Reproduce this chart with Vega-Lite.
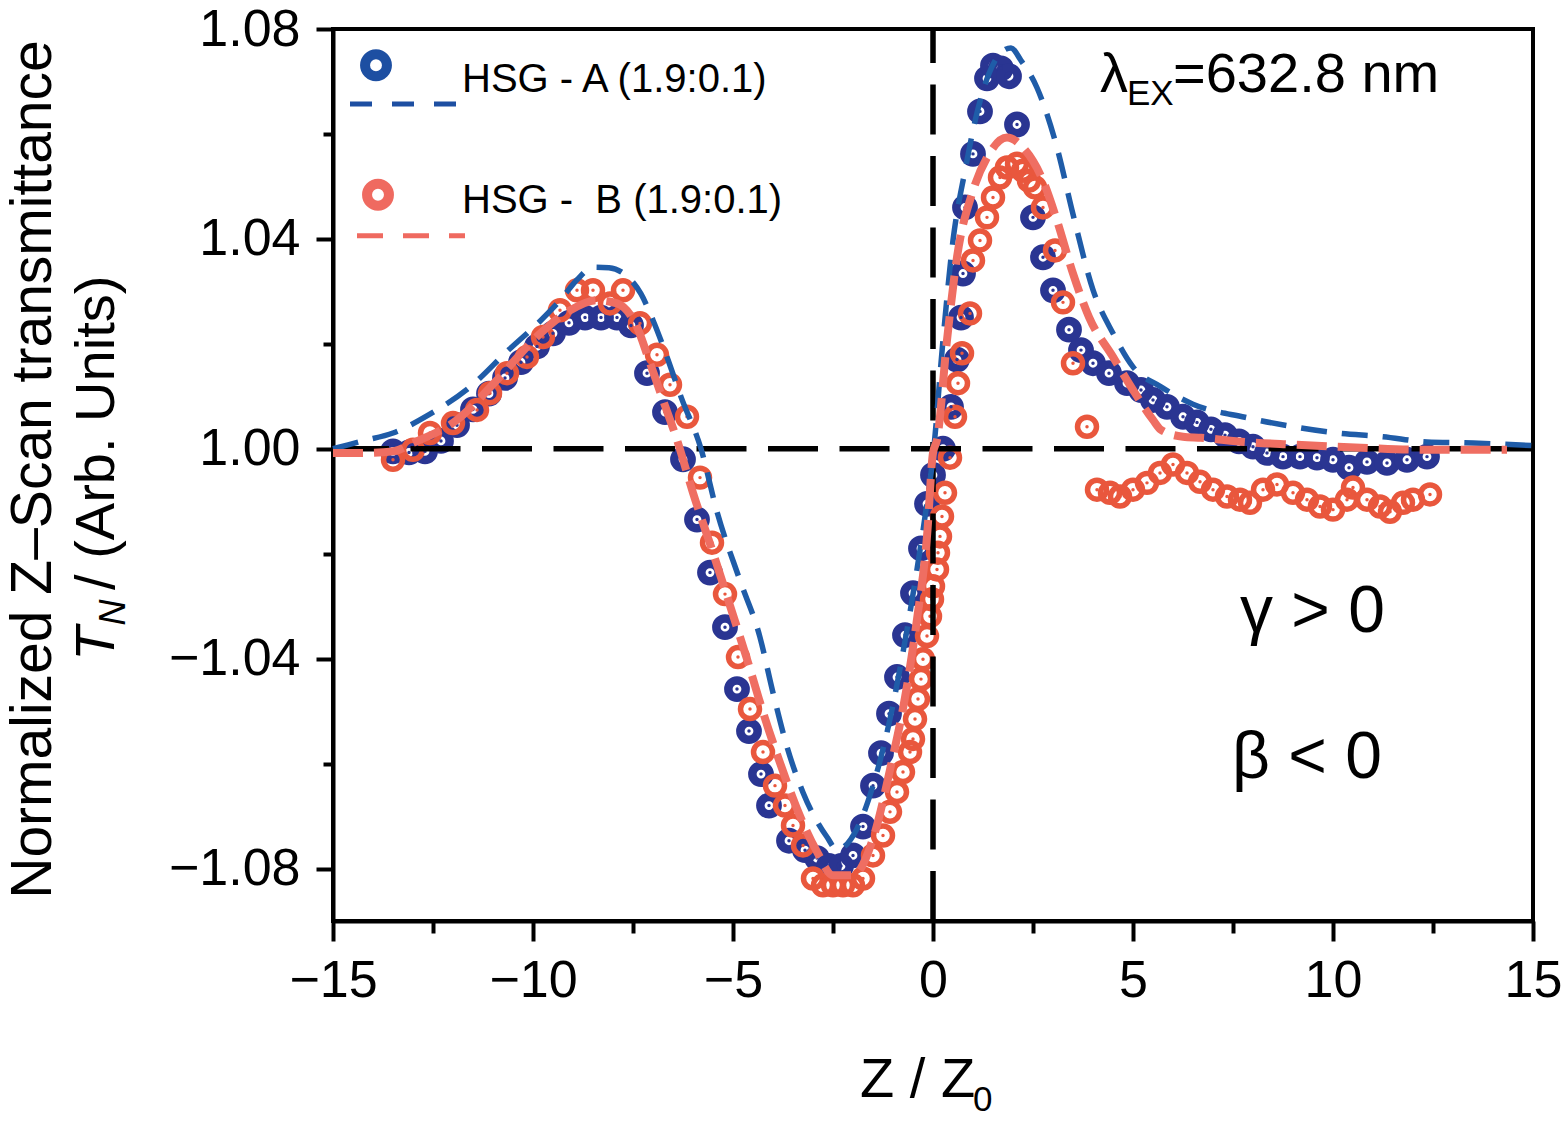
{
  "$schema": "https://vega.github.io/schema/vega-lite/v6.json",
  "background": "white",
  "autosize": {"type": "none"},
  "padding": {"left": 333, "top": 29, "right": 31, "bottom": 200},
  "width": 1200,
  "height": 892,
  "datasets": {
    "pts": [
      {"s": "A", "z": -13.5, "t": 0.9995}, {"s": "A", "z": -13.1, "t": 0.9993}, {"s": "A", "z": -12.7, "t": 0.9995},
      {"s": "A", "z": -12.3, "t": 1.0015}, {"s": "A", "z": -11.9, "t": 1.0045}, {"s": "A", "z": -11.5, "t": 1.0075},
      {"s": "A", "z": -11.1, "t": 1.0105}, {"s": "A", "z": -10.7, "t": 1.0135}, {"s": "A", "z": -10.3, "t": 1.0165},
      {"s": "A", "z": -9.9, "t": 1.0195}, {"s": "A", "z": -9.5, "t": 1.022}, {"s": "A", "z": -9.1, "t": 1.024},
      {"s": "A", "z": -8.7, "t": 1.025}, {"s": "A", "z": -8.3, "t": 1.025}, {"s": "A", "z": -7.9, "t": 1.025},
      {"s": "A", "z": -7.55, "t": 1.0235}, {"s": "A", "z": -7.15, "t": 1.0144}, {"s": "A", "z": -6.7, "t": 1.007},
      {"s": "A", "z": -6.25, "t": 0.998}, {"s": "A", "z": -5.9, "t": 0.9865}, {"s": "A", "z": -5.575, "t": 0.9764},
      {"s": "A", "z": -5.2, "t": 0.966}, {"s": "A", "z": -4.9, "t": 0.9542}, {"s": "A", "z": -4.6, "t": 0.9462},
      {"s": "A", "z": -4.3, "t": 0.938}, {"s": "A", "z": -4.1, "t": 0.932}, {"s": "A", "z": -3.6, "t": 0.9253},
      {"s": "A", "z": -3.2, "t": 0.9235}, {"s": "A", "z": -2.9, "t": 0.922}, {"s": "A", "z": -2.6, "t": 0.9205},
      {"s": "A", "z": -2.3, "t": 0.9205}, {"s": "A", "z": -2.0, "t": 0.9225}, {"s": "A", "z": -1.75, "t": 0.928},
      {"s": "A", "z": -1.5, "t": 0.9358}, {"s": "A", "z": -1.3, "t": 0.942}, {"s": "A", "z": -1.1, "t": 0.9495},
      {"s": "A", "z": -0.9, "t": 0.9565}, {"s": "A", "z": -0.7, "t": 0.9645}, {"s": "A", "z": -0.5, "t": 0.9725},
      {"s": "A", "z": -0.3, "t": 0.981}, {"s": "A", "z": -0.15, "t": 0.9895}, {"s": "A", "z": 0.0, "t": 0.995},
      {"s": "A", "z": 0.25, "t": 1.0}, {"s": "A", "z": 0.45, "t": 1.008}, {"s": "A", "z": 0.6, "t": 1.017},
      {"s": "A", "z": 0.7, "t": 1.025}, {"s": "A", "z": 0.75, "t": 1.0334}, {"s": "A", "z": 0.8, "t": 1.046},
      {"s": "A", "z": 1.0, "t": 1.0562}, {"s": "A", "z": 1.175, "t": 1.0643}, {"s": "A", "z": 1.35, "t": 1.0706},
      {"s": "A", "z": 1.5, "t": 1.073}, {"s": "A", "z": 1.7, "t": 1.0725}, {"s": "A", "z": 1.9, "t": 1.071},
      {"s": "A", "z": 2.1, "t": 1.0618}, {"s": "A", "z": 2.5, "t": 1.0441}, {"s": "A", "z": 2.75, "t": 1.0365},
      {"s": "A", "z": 3.0, "t": 1.0302}, {"s": "A", "z": 3.4, "t": 1.0227}, {"s": "A", "z": 3.7, "t": 1.0188},
      {"s": "A", "z": 4.0, "t": 1.0163}, {"s": "A", "z": 4.4, "t": 1.0144}, {"s": "A", "z": 4.85, "t": 1.0125},
      {"s": "A", "z": 5.2, "t": 1.0112}, {"s": "A", "z": 5.5, "t": 1.0093}, {"s": "A", "z": 5.85, "t": 1.008},
      {"s": "A", "z": 6.25, "t": 1.0061}, {"s": "A", "z": 6.6, "t": 1.005}, {"s": "A", "z": 6.95, "t": 1.0037},
      {"s": "A", "z": 7.3, "t": 1.0026}, {"s": "A", "z": 7.65, "t": 1.0014}, {"s": "A", "z": 8.0, "t": 1.0004},
      {"s": "A", "z": 8.35, "t": 0.9992}, {"s": "A", "z": 8.75, "t": 0.9985}, {"s": "A", "z": 9.175, "t": 0.9985},
      {"s": "A", "z": 9.6, "t": 0.9983}, {"s": "A", "z": 10.0, "t": 0.9979}, {"s": "A", "z": 10.4, "t": 0.9964},
      {"s": "A", "z": 10.85, "t": 0.9975}, {"s": "A", "z": 11.35, "t": 0.9973}, {"s": "A", "z": 11.85, "t": 0.9979},
      {"s": "A", "z": 12.35, "t": 0.9985},
      {"s": "B", "z": -13.5, "t": 0.9979}, {"s": "B", "z": -13.0, "t": 0.9998}, {"s": "B", "z": -12.575, "t": 1.003},
      {"s": "B", "z": -12.0, "t": 1.0049}, {"s": "B", "z": -11.4, "t": 1.0074}, {"s": "B", "z": -11.075, "t": 1.0106},
      {"s": "B", "z": -10.65, "t": 1.0144}, {"s": "B", "z": -10.15, "t": 1.0175}, {"s": "B", "z": -9.75, "t": 1.0213},
      {"s": "B", "z": -9.325, "t": 1.0264}, {"s": "B", "z": -8.9, "t": 1.0302}, {"s": "B", "z": -8.5, "t": 1.0302},
      {"s": "B", "z": -8.075, "t": 1.0277}, {"s": "B", "z": -7.75, "t": 1.0302}, {"s": "B", "z": -7.325, "t": 1.0239},
      {"s": "B", "z": -6.9, "t": 1.0179}, {"s": "B", "z": -6.575, "t": 1.0122}, {"s": "B", "z": -6.15, "t": 1.0061},
      {"s": "B", "z": -5.825, "t": 0.9945}, {"s": "B", "z": -5.525, "t": 0.9821}, {"s": "B", "z": -5.2, "t": 0.9723},
      {"s": "B", "z": -4.875, "t": 0.9603}, {"s": "B", "z": -4.575, "t": 0.9504}, {"s": "B", "z": -4.25, "t": 0.9422},
      {"s": "B", "z": -3.95, "t": 0.9358}, {"s": "B", "z": -3.7, "t": 0.932}, {"s": "B", "z": -3.5, "t": 0.9282},
      {"s": "B", "z": -3.25, "t": 0.9244}, {"s": "B", "z": -3.0, "t": 0.9181}, {"s": "B", "z": -2.75, "t": 0.9168},
      {"s": "B", "z": -2.5, "t": 0.9168}, {"s": "B", "z": -2.25, "t": 0.9168}, {"s": "B", "z": -2.0, "t": 0.9168},
      {"s": "B", "z": -1.75, "t": 0.9181}, {"s": "B", "z": -1.5, "t": 0.9225}, {"s": "B", "z": -1.25, "t": 0.9263},
      {"s": "B", "z": -1.075, "t": 0.9308}, {"s": "B", "z": -0.9, "t": 0.9346}, {"s": "B", "z": -0.75, "t": 0.9384},
      {"s": "B", "z": -0.575, "t": 0.9422}, {"s": "B", "z": -0.5, "t": 0.9447}, {"s": "B", "z": -0.45, "t": 0.9485},
      {"s": "B", "z": -0.375, "t": 0.9523}, {"s": "B", "z": -0.3, "t": 0.9561}, {"s": "B", "z": -0.25, "t": 0.9599},
      {"s": "B", "z": -0.15, "t": 0.9643}, {"s": "B", "z": -0.075, "t": 0.9681}, {"s": "B", "z": -0.025, "t": 0.9713},
      {"s": "B", "z": 0.0, "t": 0.9738}, {"s": "B", "z": 0.1, "t": 0.977}, {"s": "B", "z": 0.125, "t": 0.9802},
      {"s": "B", "z": 0.175, "t": 0.9833}, {"s": "B", "z": 0.225, "t": 0.9871}, {"s": "B", "z": 0.3, "t": 0.9916},
      {"s": "B", "z": 0.425, "t": 0.9983}, {"s": "B", "z": 0.55, "t": 1.0061}, {"s": "B", "z": 0.625, "t": 1.0125},
      {"s": "B", "z": 0.725, "t": 1.0182}, {"s": "B", "z": 0.925, "t": 1.0258}, {"s": "B", "z": 1.0, "t": 1.0359},
      {"s": "B", "z": 1.175, "t": 1.0397}, {"s": "B", "z": 1.35, "t": 1.0441}, {"s": "B", "z": 1.5, "t": 1.0479},
      {"s": "B", "z": 1.675, "t": 1.0517}, {"s": "B", "z": 1.85, "t": 1.0536}, {"s": "B", "z": 2.1, "t": 1.0543},
      {"s": "B", "z": 2.25, "t": 1.053}, {"s": "B", "z": 2.4, "t": 1.0511}, {"s": "B", "z": 2.55, "t": 1.0498},
      {"s": "B", "z": 2.75, "t": 1.046}, {"s": "B", "z": 3.05, "t": 1.0378}, {"s": "B", "z": 3.25, "t": 1.0279},
      {"s": "B", "z": 3.5, "t": 1.0163}, {"s": "B", "z": 3.85, "t": 1.0042}, {"s": "B", "z": 4.1, "t": 0.9922},
      {"s": "B", "z": 4.425, "t": 0.9916}, {"s": "B", "z": 4.675, "t": 0.9909}, {"s": "B", "z": 5.0, "t": 0.9922},
      {"s": "B", "z": 5.35, "t": 0.9935}, {"s": "B", "z": 5.675, "t": 0.9954}, {"s": "B", "z": 6.0, "t": 0.997},
      {"s": "B", "z": 6.35, "t": 0.9954}, {"s": "B", "z": 6.675, "t": 0.9937}, {"s": "B", "z": 7.0, "t": 0.9922},
      {"s": "B", "z": 7.35, "t": 0.9909}, {"s": "B", "z": 7.675, "t": 0.9903}, {"s": "B", "z": 7.925, "t": 0.9897},
      {"s": "B", "z": 8.25, "t": 0.9922}, {"s": "B", "z": 8.6, "t": 0.9932}, {"s": "B", "z": 9.0, "t": 0.9916},
      {"s": "B", "z": 9.35, "t": 0.9903}, {"s": "B", "z": 9.675, "t": 0.989}, {"s": "B", "z": 10.0, "t": 0.9884},
      {"s": "B", "z": 10.35, "t": 0.9903}, {"s": "B", "z": 10.5, "t": 0.9926}, {"s": "B", "z": 10.85, "t": 0.9903},
      {"s": "B", "z": 11.175, "t": 0.989}, {"s": "B", "z": 11.425, "t": 0.988}, {"s": "B", "z": 11.75, "t": 0.9897},
      {"s": "B", "z": 12.0, "t": 0.9903}, {"s": "B", "z": 12.425, "t": 0.9913}
    ],
    "fit": [
      {"s": "A", "z": -15, "t": 1.0}, {"s": "A", "z": -14.25, "t": 1.0015}, {"s": "A", "z": -13.5, "t": 1.003},
      {"s": "A", "z": -12.6, "t": 1.0065}, {"s": "A", "z": -11.6, "t": 1.0116}, {"s": "A", "z": -10.6, "t": 1.0189},
      {"s": "A", "z": -9.8, "t": 1.0245}, {"s": "A", "z": -9.3, "t": 1.0285}, {"s": "A", "z": -8.9, "t": 1.0322},
      {"s": "A", "z": -8.5, "t": 1.0346}, {"s": "A", "z": -8.1, "t": 1.0345}, {"s": "A", "z": -7.7, "t": 1.0332},
      {"s": "A", "z": -7.3, "t": 1.0295}, {"s": "A", "z": -7.0, "t": 1.0245}, {"s": "A", "z": -6.65, "t": 1.0175},
      {"s": "A", "z": -6.3, "t": 1.0099}, {"s": "A", "z": -5.8, "t": 1.0}, {"s": "A", "z": -5.4, "t": 0.988},
      {"s": "A", "z": -4.83, "t": 0.975}, {"s": "A", "z": -4.33, "t": 0.9642}, {"s": "A", "z": -4.0, "t": 0.9535},
      {"s": "A", "z": -3.65, "t": 0.9432}, {"s": "A", "z": -3.25, "t": 0.9345}, {"s": "A", "z": -2.65, "t": 0.926},
      {"s": "A", "z": -2.4, "t": 0.9236}, {"s": "A", "z": -1.9, "t": 0.9276}, {"s": "A", "z": -1.5, "t": 0.9358},
      {"s": "A", "z": -1.075, "t": 0.9485}, {"s": "A", "z": -0.75, "t": 0.9612}, {"s": "A", "z": -0.4, "t": 0.977},
      {"s": "A", "z": -0.15, "t": 0.9897}, {"s": "A", "z": 0.0, "t": 0.9985}, {"s": "A", "z": 0.25, "t": 1.0207},
      {"s": "A", "z": 0.5, "t": 1.0397}, {"s": "A", "z": 0.8, "t": 1.053}, {"s": "A", "z": 1.1, "t": 1.064},
      {"s": "A", "z": 1.4, "t": 1.0715}, {"s": "A", "z": 1.7, "t": 1.0755}, {"s": "A", "z": 1.95, "t": 1.0764},
      {"s": "A", "z": 2.2, "t": 1.074}, {"s": "A", "z": 2.6, "t": 1.0688}, {"s": "A", "z": 3.1, "t": 1.0574},
      {"s": "A", "z": 3.5, "t": 1.0447}, {"s": "A", "z": 4.0, "t": 1.0303}, {"s": "A", "z": 4.5, "t": 1.022},
      {"s": "A", "z": 5.0, "t": 1.0156}, {"s": "A", "z": 5.7, "t": 1.0118}, {"s": "A", "z": 6.5, "t": 1.0085},
      {"s": "A", "z": 7.8, "t": 1.006}, {"s": "A", "z": 9.0, "t": 1.0042}, {"s": "A", "z": 10.1, "t": 1.003},
      {"s": "A", "z": 11.25, "t": 1.0023}, {"s": "A", "z": 12.35, "t": 1.0013}, {"s": "A", "z": 13.5, "t": 1.0011},
      {"s": "A", "z": 15, "t": 1.0006},
      {"s": "B", "z": -15, "t": 0.9992}, {"s": "B", "z": -14.2, "t": 0.9992}, {"s": "B", "z": -13.5, "t": 0.9995},
      {"s": "B", "z": -13.0, "t": 1.0011}, {"s": "B", "z": -11.9, "t": 1.0055}, {"s": "B", "z": -10.9, "t": 1.0131},
      {"s": "B", "z": -9.9, "t": 1.0214}, {"s": "B", "z": -9.07, "t": 1.0264}, {"s": "B", "z": -8.4, "t": 1.0283},
      {"s": "B", "z": -7.9, "t": 1.0277}, {"s": "B", "z": -7.4, "t": 1.0232}, {"s": "B", "z": -7.1, "t": 1.0169},
      {"s": "B", "z": -6.75, "t": 1.0093}, {"s": "B", "z": -6.4, "t": 1.0017}, {"s": "B", "z": -6.0, "t": 0.9916},
      {"s": "B", "z": -5.5, "t": 0.9802}, {"s": "B", "z": -5.07, "t": 0.97}, {"s": "B", "z": -4.65, "t": 0.9599},
      {"s": "B", "z": -4.25, "t": 0.9498}, {"s": "B", "z": -3.8, "t": 0.9396}, {"s": "B", "z": -3.4, "t": 0.9314},
      {"s": "B", "z": -2.9, "t": 0.9232}, {"s": "B", "z": -2.5, "t": 0.9187}, {"s": "B", "z": -2.0, "t": 0.9187},
      {"s": "B", "z": -1.5, "t": 0.9257}, {"s": "B", "z": -1.07, "t": 0.939}, {"s": "B", "z": -0.65, "t": 0.9548},
      {"s": "B", "z": -0.4, "t": 0.9675}, {"s": "B", "z": -0.15, "t": 0.9833}, {"s": "B", "z": 0.0, "t": 0.9992},
      {"s": "B", "z": 0.1, "t": 1.0017}, {"s": "B", "z": 0.35, "t": 1.0207}, {"s": "B", "z": 0.6, "t": 1.0365},
      {"s": "B", "z": 1.0, "t": 1.0492}, {"s": "B", "z": 1.35, "t": 1.0555}, {"s": "B", "z": 1.85, "t": 1.0593},
      {"s": "B", "z": 2.25, "t": 1.0574}, {"s": "B", "z": 2.75, "t": 1.0511}, {"s": "B", "z": 3.1, "t": 1.0435},
      {"s": "B", "z": 3.5, "t": 1.0334}, {"s": "B", "z": 3.9, "t": 1.0251}, {"s": "B", "z": 4.5, "t": 1.0175},
      {"s": "B", "z": 5.0, "t": 1.0112}, {"s": "B", "z": 5.5, "t": 1.0055}, {"s": "B", "z": 5.7, "t": 1.0036},
      {"s": "B", "z": 6.25, "t": 1.0023}, {"s": "B", "z": 6.7, "t": 1.0021}, {"s": "B", "z": 7.8, "t": 1.0013},
      {"s": "B", "z": 9.0, "t": 1.0008}, {"s": "B", "z": 10.7, "t": 1.0002}, {"s": "B", "z": 12.35, "t": 0.9998},
      {"s": "B", "z": 14.35, "t": 0.9998}
    ],
    "refs": [
      {"z": 15, "z2": -15, "t": 1.0, "t2": 1.0},
      {"z": 0, "z2": 0, "t": 0.91, "t2": 1.08}
    ],
    "legpts": [
      {"s": "A", "z": -13.925, "t": 1.0731},
      {"s": "B", "z": -13.875, "t": 1.0484}
    ],
    "legdash": [
      {"s": "A", "z": -14.575, "z2": -11.875, "t": 1.0657},
      {"s": "B", "z": -14.4, "z2": -11.7, "t": 1.0406}
    ],
    "txtbig": [
      {"z": 4.175, "t": 1.068, "label": "λ"},
      {"z": 6.0, "t": 1.068, "label": "=632.8 nm"},
      {"z": -1.825, "t": 0.8764, "label": "Z / Z"}
    ],
    "txtsub": [
      {"z": 4.85, "t": 1.0655, "label": "EX"},
      {"z": 1.0, "t": 0.8737, "label": "0"}
    ],
    "txtleg": [
      {"z": -11.775, "t": 1.068, "label": "HSG - A (1.9:0.1)"},
      {"z": -11.775, "t": 1.045, "label": "HSG - \u00a0B (1.9:0.1)"}
    ],
    "txtsign": [
      {"z": 7.675, "t": 0.9651, "label": "γ > 0"},
      {"z": 7.475, "t": 0.9373, "label": "β < 0"}
    ],
    "ytitleT": [{"z": -20.475, "t": 0.9596, "label": "T"}],
    "ytitleN": [{"z": -20.2, "t": 0.9663, "label": "N"}],
    "ytitleRest": [{"z": -20.475, "t": 0.9731, "label": "/ (Arb. Units)"}]
  },
  "encoding": {
    "x": {
      "field": "z",
      "type": "quantitative",
      "scale": {"domain": [-15, 15], "nice": false, "zero": false},
      "axis": {
        "title": null,
        "values": [-15, -12.5, -10, -7.5, -5, -2.5, 0, 2.5, 5, 7.5, 10, 12.5, 15],
        "labelExpr": "datum.value % 5 == 0 ? (datum.value < 0 ? '−' + abs(datum.value) : '' + datum.value) : ''",
        "tickSize": {"condition": {"test": "datum.value % 5 == 0", "value": 20}, "value": 12},
        "labelPadding": 14,
        "labelFlush": false,
        "labelOverlap": false
      }
    },
    "y": {
      "field": "t",
      "type": "quantitative",
      "scale": {"domain": [0.91, 1.08], "nice": false, "zero": false},
      "axis": {
        "title": "Normalized Z–Scan transmittance",
        "titleX": -283,
        "titleY": 440,
        "titleAngle": 270,
        "titleAlign": "center",
        "titleBaseline": "alphabetic",
        "titleFontSize": 57,
        "values": [0.92, 0.94, 0.96, 0.98, 1.0, 1.02, 1.04, 1.06, 1.08],
        "labelExpr": "round(datum.value * 50) % 2 == 0 ? (datum.value < 0.99 ? '−' + format(2 - datum.value, '.2f') : format(datum.value, '.2f')) : ''",
        "tickSize": {"condition": {"test": "round(datum.value * 50) % 2 == 0", "value": 17}, "value": 10},
        "labelPadding": 16,
        "labelOverlap": false
      }
    }
  },
  "layer": [
    {
      "data": {"name": "pts"},
      "transform": [{"filter": "datum.s == 'A'"}],
      "mark": {"type": "point", "filled": false, "stroke": "#2a3592", "strokeWidth": 8.5, "size": 300, "opacity": 1}
    },
    {
      "data": {"name": "pts"},
      "transform": [{"filter": "datum.s == 'B'"}],
      "mark": {"type": "point", "filled": false, "stroke": "#e9573d", "strokeWidth": 5.5, "size": 360, "opacity": 1}
    },
    {
      "data": {"name": "pts"},
      "mark": {"type": "circle", "size": 12, "opacity": 1},
      "encoding": {
        "color": {"condition": {"test": "datum.s == 'A'", "value": "#2a3592"}, "value": "#e9573d"}
      }
    },
    {
      "data": {"name": "refs"},
      "mark": {"type": "rule", "color": "black", "strokeWidth": 5.5, "strokeDash": [50, 21.5]},
      "encoding": {
        "x2": {"field": "z2"},
        "y2": {"field": "t2"}
      }
    },
    {
      "data": {"name": "fit"},
      "transform": [{"filter": "datum.s == 'A'"}],
      "mark": {"type": "line", "color": "#1f5ca8", "strokeWidth": 5.5, "strokeDash": [26, 15], "interpolate": "monotone"}
    },
    {
      "data": {"name": "fit"},
      "transform": [{"filter": "datum.s == 'B'"}],
      "mark": {"type": "line", "color": "#ef6e62", "strokeWidth": 8, "strokeDash": [30, 11], "interpolate": "monotone"}
    },
    {
      "data": {"name": "legpts"},
      "mark": {"type": "point", "filled": false, "strokeWidth": 10, "size": 480, "opacity": 1},
      "encoding": {
        "stroke": {"condition": {"test": "datum.s == 'A'", "value": "#1d4fa2"}, "value": "#ef6a60"}
      }
    },
    {
      "data": {"name": "legdash"},
      "transform": [{"filter": "datum.s == 'A'"}],
      "mark": {"type": "rule", "color": "#1d4fa2", "strokeWidth": 5, "strokeDash": [22, 20]},
      "encoding": {"x2": {"field": "z2"}}
    },
    {
      "data": {"name": "legdash"},
      "transform": [{"filter": "datum.s == 'B'"}],
      "mark": {"type": "rule", "color": "#ef6a60", "strokeWidth": 5, "strokeDash": [26, 20]},
      "encoding": {"x2": {"field": "z2"}}
    },
    {
      "data": {"name": "txtbig"},
      "mark": {"type": "text", "fontSize": 56, "align": "left", "baseline": "alphabetic", "color": "black"},
      "encoding": {"text": {"field": "label"}}
    },
    {
      "data": {"name": "txtsub"},
      "mark": {"type": "text", "fontSize": 35, "align": "left", "baseline": "alphabetic", "color": "black"},
      "encoding": {"text": {"field": "label"}}
    },
    {
      "data": {"name": "txtleg"},
      "mark": {"type": "text", "fontSize": 40, "align": "left", "baseline": "alphabetic", "color": "black"},
      "encoding": {"text": {"field": "label"}}
    },
    {
      "data": {"name": "txtsign"},
      "mark": {"type": "text", "fontSize": 66, "align": "left", "baseline": "alphabetic", "color": "black"},
      "encoding": {"text": {"field": "label"}}
    },
    {
      "data": {"name": "ytitleT"},
      "mark": {"type": "text", "fontSize": 56, "fontStyle": "italic", "angle": 270, "align": "left", "baseline": "alphabetic", "color": "black"},
      "encoding": {"text": {"field": "label"}}
    },
    {
      "data": {"name": "ytitleN"},
      "mark": {"type": "text", "fontSize": 36, "fontStyle": "italic", "angle": 270, "align": "left", "baseline": "alphabetic", "color": "black"},
      "encoding": {"text": {"field": "label"}}
    },
    {
      "data": {"name": "ytitleRest"},
      "mark": {"type": "text", "fontSize": 56, "angle": 270, "align": "left", "baseline": "alphabetic", "color": "black"},
      "encoding": {"text": {"field": "label"}}
    }
  ],
  "config": {
    "view": {"stroke": "black", "strokeWidth": 4},
    "font": "Liberation Sans",
    "text": {"font": "Liberation Sans"},
    "axis": {
      "grid": false,
      "domainColor": "black",
      "domainWidth": 4,
      "tickColor": "black",
      "tickWidth": 4,
      "labelColor": "black",
      "labelFont": "Liberation Sans",
      "labelFontSize": 52,
      "titleFont": "Liberation Sans",
      "titleFontWeight": "normal",
      "titleColor": "black"
    }
  }
}
